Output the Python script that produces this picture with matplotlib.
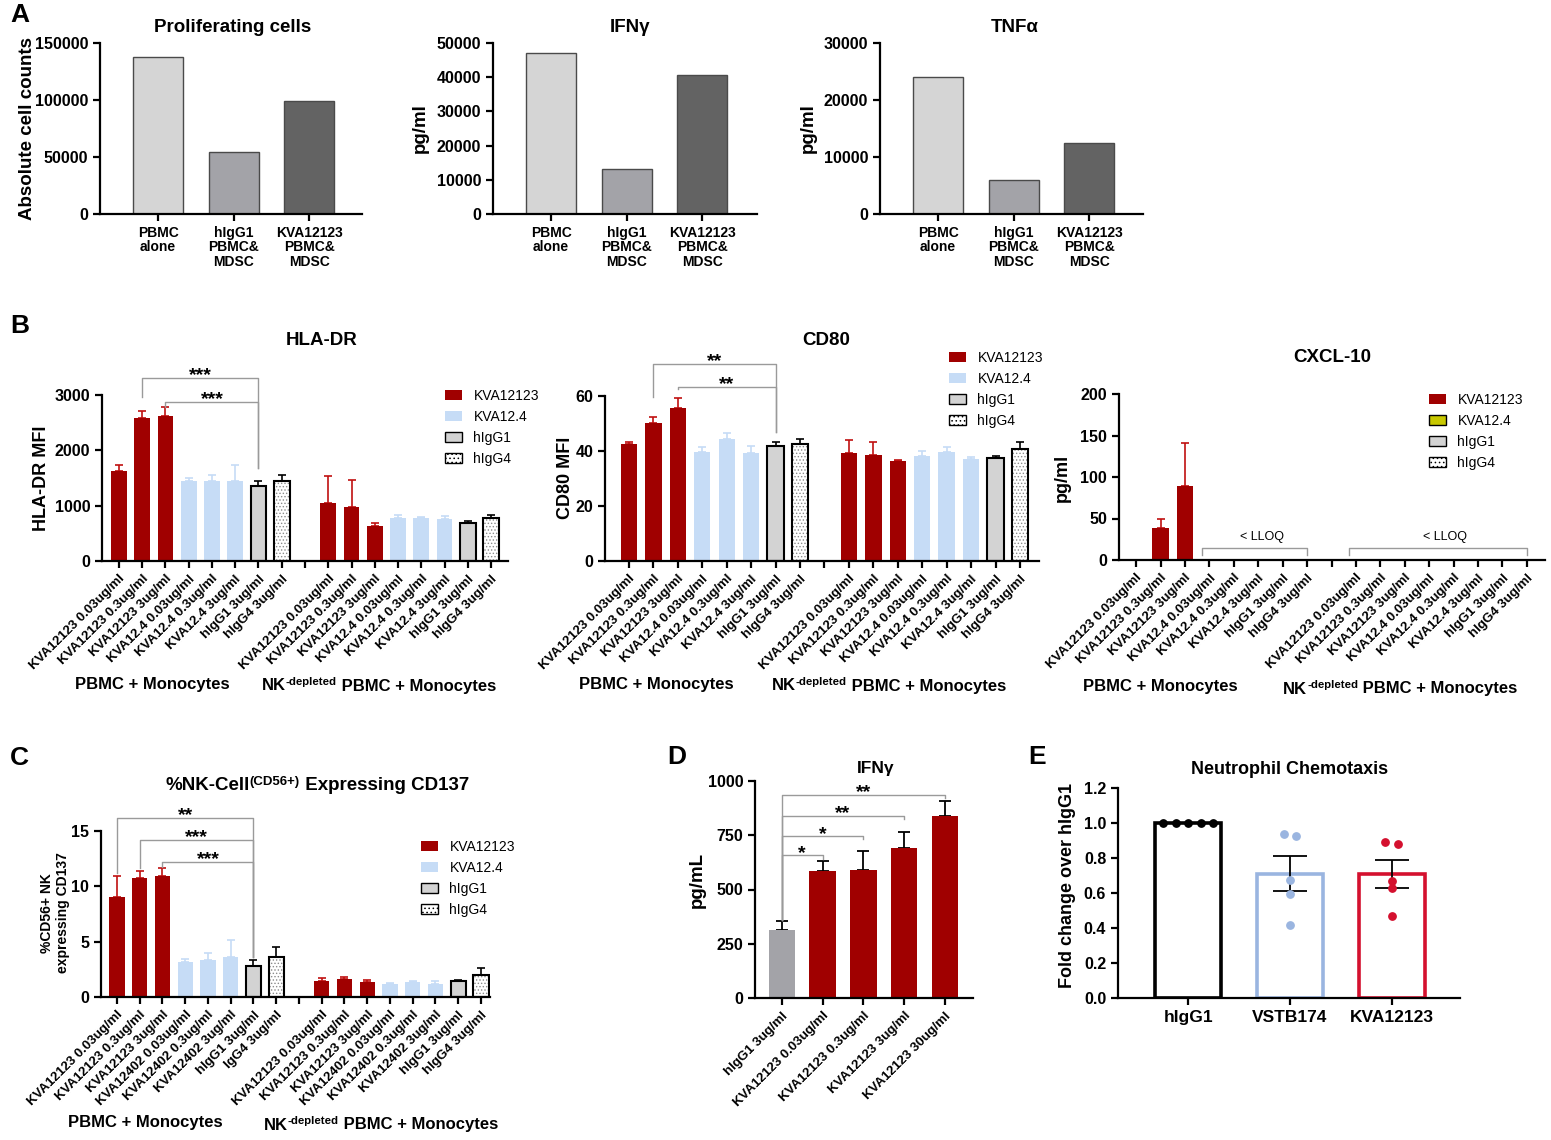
import numpy as np
import matplotlib
matplotlib.use("Agg")
import matplotlib.pyplot as plt
from matplotlib.patches import Patch

plt.rcParams['font.family'] = ['Liberation Sans', 'DejaVu Sans']
plt.rcParams['font.weight'] = 'bold'
plt.rcParams['hatch.linewidth'] = 0.6

# ---------------- data ----------------
a_labels = ["PBMC\nalone", "hIgG1\nPBMC&\nMDSC", "KVA12123\nPBMC&\nMDSC"]
prolif_vals = [138000, 54500, 99500]
ifng_a_vals = [47200, 13200, 40700]
tnfa_vals = [24100, 5900, 12400]

b_labels = ["KVA12123 0.03ug/ml", "KVA12123 0.3ug/ml", "KVA12123 3ug/ml",
            "KVA12.4 0.03ug/ml", "KVA12.4 0.3ug/ml", "KVA12.4 3ug/ml",
            "hIgG1 3ug/ml", "hIgG4 3ug/ml"]
b_kinds = ['KVA12123'] * 3 + ['KVA12.4'] * 3 + ['hIgG1', 'hIgG4']

hladr_mean = [1632, 2590, 2614, 1446, 1452, 1440, 1355, 1446,
              1042, 970, 639, 771, 771, 759, 693, 771]
hladr_err = [103, 115, 163, 48, 108, 301, 97, 108,
             500, 500, 42, 54, 18, 48, 36, 54]

cd80_mean = [42.4, 50.1, 55.7, 39.7, 44.5, 39.1, 42.0, 42.4,
             39.1, 38.6, 36.3, 38.1, 39.5, 37.0, 37.5, 40.6]
cd80_err = [1.0, 2.3, 3.7, 1.8, 2.1, 2.6, 1.4, 2.0,
            5.0, 4.7, 0.6, 2.0, 2.1, 0.8, 0.7, 2.8]

cxcl_mean = [0, 38.2, 89.2, 0, 0, 0, 0, 0,
             0, 0, 0, 0, 0, 0, 0, 0]
cxcl_err = [0, 11.6, 52.2, 0, 0, 0, 0, 0,
            0, 0, 0, 0, 0, 0, 0, 0]

c_labels1 = ["KVA12123 0.03ug/ml", "KVA12123 0.3ug/ml", "KVA12123 3ug/ml",
             "KVA12402 0.03ug/ml", "KVA12402 0.3ug/ml", "KVA12402 3ug/ml",
             "hIgG1 3ug/ml", "IgG4 3ug/ml"]
c_labels2 = c_labels1[:7] + ["hIgG4 3ug/ml"]
cd137_mean = [9.03, 10.71, 10.95, 3.15, 3.30, 3.63, 2.76, 3.63,
              1.41, 1.62, 1.32, 1.20, 1.38, 1.20, 1.41, 1.98]
cd137_err = [1.89, 0.66, 0.75, 0.30, 0.66, 1.50, 0.54, 0.87,
             0.30, 0.15, 0.24, 0.06, 0.09, 0.24, 0.15, 0.63]

d_labels = ["hIgG1 3ug/ml", "KVA12123 0.03ug/ml", "KVA12123 0.3ug/ml",
            "KVA12123 3ug/ml", "KVA12123 30ug/ml"]
d_mean = [315, 584, 591, 693, 839]
d_err = [38, 47, 88, 73, 69]

e_labels = ["hIgG1", "VSTB174", "KVA12123"]
e_higg1 = [1.0, 1.0, 1.0, 1.0, 1.0]
e_vstb = [0.937, 0.925, 0.673, 0.595, 0.419]
e_kva = [0.893, 0.878, 0.669, 0.629, 0.468]

# significance brackets: (left bar, right bar, line y, left drop, right drop, label)
hladr_sig = [(1, 6, 3307, 2964, 1680, '***'), (2, 6, 2873, 2783, 1680, '***')]
cd80_sig = [(1, 6, 71.6, 59.6, 46.9, '**'), (2, 6, 63.3, 62.5, 46.9, '**')]
cd137_sig = [(0, 6, 16.2, 11.2, 3.6, '**'), (1, 6, 14.2, 11.65, 3.6, '***'),
             (2, 6, 12.2, 11.75, 3.6, '***')]
d_sig = [(0, 1, 657, 358, 642, '*'), (0, 2, 745, 358, 733, '*'),
         (0, 3, 840, 358, 825, '**'), (0, 4, 937, 358, 923, '**')]

# ---------------- styles ----------------
RED = '#a00000'
RED_ERR = '#c01010'
BLUE = '#c6dcf6'
GRAY = '#d3d3d3'
OLIVE = '#c8c800'
STYLE = {
    'KVA12123': dict(fc=RED, ec='none', err=RED_ERR, hatch=None),
    'KVA12.4': dict(fc=BLUE, ec='none', err=BLUE, hatch=None),
    'hIgG1': dict(fc=GRAY, ec='black', err='black', hatch=None),
    'hIgG4': dict(fc='white', ec='black', err='black', hatch='.....'),
}

W, H = 1551, 1140
fig = plt.figure(figsize=(W / 100, H / 100), dpi=100)


def fx(x):
    return x / W


def fy(y):
    return 1 - y / H


def add_ax(x0, x1, ytop, ybot):
    return fig.add_axes([fx(x0), fy(ybot), (x1 - x0) / W, (ybot - ytop) / H])


def style(ax, ymax, yticks, xlim):
    ax.spines[['top', 'right']].set_visible(False)
    for s in ['left', 'bottom']:
        ax.spines[s].set_linewidth(1.6)
    ax.tick_params(width=1.6, length=5)
    ax.tick_params(axis='y', labelsize=11.5)
    ax.set_ylim(0, ymax)
    ax.set_yticks(yticks)
    ax.set_xlim(*xlim)


def ftext(x, y, s, **kw):
    return fig.text(fx(x), fy(y), s, **kw)


def ylab(x, y, s, size=13):
    ftext(x, y, s, rotation=90, ha='center', va='center', fontsize=size)


def sup_label(ax, x, y, base, sup, rest, size=12, sup_size=None):
    sup_size = sup_size or size * 0.68
    t1 = ax.text(fx(x), fy(y), base, transform=fig.transFigure,
                 ha='left', va='center', fontsize=size)
    t2 = ax.annotate(sup, xy=(1, 1.07), xycoords=t1, ha='left',
                     va='top', fontsize=sup_size)
    ax.annotate(rest, xy=(1, 0), xycoords=(t2, t1),
                ha='left', va='bottom', fontsize=size)


def sig(ax, x_of, brackets, color='#9a9a9a'):
    for l, r, y, yl, yr, lab in brackets:
        xl, xr = x_of[l], x_of[r]
        ax.plot([xl, xl, xr, xr], [yl, y, y, yr], color=color, lw=1,
                clip_on=False)
        ax.annotate(lab, xy=((xl + xr) / 2, y), xytext=(0, -4.5),
                    textcoords='offset points', ha='center', va='bottom',
                    fontsize=14, annotation_clip=False)


def legend(ax, x, y, olive=False):
    h = [Patch(fc=RED, ec='none'),
         Patch(fc=OLIVE if olive else BLUE, ec='black' if olive else 'none'),
         Patch(fc=GRAY, ec='black'),
         Patch(fc='white', ec='black', hatch='....')]
    labs = ['KVA12123', 'KVA12.4', 'hIgG1', 'hIgG4']
    fig.legend(h, labs, loc='upper left', bbox_to_anchor=(fx(x), fy(y)),
               bbox_transform=fig.transFigure, frameon=False,
               prop={'weight': 'normal', 'size': 10}, borderpad=0,
               borderaxespad=0, handlelength=1.25, handleheight=0.75,
               handletextpad=0.8, labelspacing=0.5)


def group_panel(ax, means, errs, labels1, labels2, skip_zero=False):
    pos = [i if i < 8 else i + 1 for i in range(16)]
    kinds = b_kinds + b_kinds
    for p, m, e, k in zip(pos, means, errs, kinds):
        if skip_zero and m == 0:
            continue
        st = STYLE[k]
        if st['hatch']:
            ax.bar(p, m, 0.67, color='white', hatch=st['hatch'],
                   edgecolor='#8a8a8a', linewidth=0, zorder=2)
            ax.bar(p, m, 0.67, facecolor='none', edgecolor='black',
                   linewidth=1.5, zorder=2)
        else:
            ax.bar(p, m, 0.67, color=st['fc'], edgecolor=st['ec'],
                   linewidth=1.5 if st['ec'] != 'none' else 0, zorder=2)
        ax.errorbar(p, m, yerr=[[0], [e]], fmt='none', ecolor=st['err'],
                    elinewidth=1.2, capsize=3.2, capthick=1.2, zorder=1)
    ax.set_xticks(range(17))
    ax.set_xticklabels(labels1 + [''] + labels2, rotation=45, ha='right',
                       rotation_mode='anchor', fontsize=9.5)
    return pos


# ---------------- panel A ----------------
a_colors = ['#d5d5d5', '#a3a3a8', '#636363']
for (x0, x1, vals, ymax, step, title, tx, yl, ylx) in [
        (100, 362, prolif_vals, 150000, 50000, "Proliferating cells", 233,
         "Absolute cell counts", 28),
        (493, 757, ifng_a_vals, 50000, 10000, "IFNγ", 630, "pg/ml", 420),
        (880, 1143, tnfa_vals, 30000, 10000, "TNFα", 1015, "pg/ml", 808)]:
    ax = add_ax(x0, x1, 43, 214)
    ax.bar(range(3), vals, 0.66, color=a_colors, edgecolor='#4a4a4a',
           linewidth=1)
    width_units = (x1 - x0) / 75.5
    style(ax, ymax, np.arange(0, ymax + 1, step), (-0.77, -0.77 + width_units))
    ax.set_xticks(range(3))
    ax.set_xticklabels(a_labels, fontsize=10, linespacing=1.05)
    ftext(tx, 28, title, ha='center', va='center', fontsize=13.5)
    ylab(ylx, 128, yl, size=13.5)

# ---------------- panel B ----------------
axb1 = add_ax(102, 508, 395, 561)
pos = group_panel(axb1, hladr_mean, hladr_err, b_labels, b_labels)
style(axb1, 3000, [0, 1000, 2000, 3000], (-0.73, 16.73))
sig(axb1, pos, hladr_sig)
ftext(322, 341, "HLA-DR", ha='center', va='center', fontsize=13.5)
ylab(42, 478, "HLA-DR MFI")
legend(axb1, 445, 389)
ftext(152, 684, "PBMC + Monocytes", ha='center', va='center', fontsize=12)
sup_label(axb1, 262, 686, "NK", "-depleted", " PBMC + Monocytes")

axb2 = add_ax(605, 1039, 396, 561)
pos = group_panel(axb2, cd80_mean, cd80_err, b_labels, b_labels)
style(axb2, 60, [0, 20, 40, 60], (-0.98, 16.78))
sig(axb2, pos, cd80_sig)
ftext(826, 341, "CD80", ha='center', va='center', fontsize=13.5)
ylab(565, 478, "CD80 MFI")
legend(axb2, 949, 351)
ftext(656, 684, "PBMC + Monocytes", ha='center', va='center', fontsize=12)
sup_label(axb2, 772, 686, "NK", "-depleted", " PBMC + Monocytes")

axb3 = add_ax(1119, 1545, 394, 560)
pos = group_panel(axb3, cxcl_mean, cxcl_err, b_labels, b_labels,
                  skip_zero=True)
style(axb3, 200, [0, 50, 100, 150, 200], (-0.70, 16.74))
for l, r in [(3, 7), (9, 16)]:
    xl, xr = l - 0.3, r
    axb3.plot([xl, xl, xr, xr], [6, 14.5, 14.5, 6], color='#9a9a9a', lw=1)
    axb3.text((xl + xr) / 2 + 0.3, 20, "< LLOQ", ha='center', va='bottom',
              fontsize=9, fontweight='normal')
ftext(1332, 357, "CXCL-10", ha='center', va='center', fontsize=13.5)
ylab(1062, 478, "pg/ml")
legend(axb3, 1429, 393, olive=True)
ftext(1160, 687, "PBMC + Monocytes", ha='center', va='center', fontsize=12)
sup_label(axb3, 1283, 689, "NK", "-depleted", " PBMC + Monocytes")

# ---------------- panel C ----------------
axc = add_ax(101, 490, 831, 997)
pos = group_panel(axc, cd137_mean, cd137_err, c_labels1, c_labels2)
style(axc, 15, [0, 5, 10, 15], (-0.70, 16.4))
sig(axc, pos, cd137_sig)
ylab(55, 913, "%CD56+ NK\nexpressing CD137", size=10)
legend(axc, 421, 840)
ftext(145, 1122, "PBMC + Monocytes", ha='center', va='center', fontsize=12)
sup_label(axc, 264, 1125, "NK", "-depleted", " PBMC + Monocytes")
sup_label(axc, 165, 786, "%NK-Cell", "(CD56+)", " Expressing CD137",
          size=13.5, sup_size=9.5)

# ---------------- panel D ----------------
axd = add_ax(755, 973, 781, 998)
axd.bar(range(5), d_mean, 0.65, color=['#a3a3a8'] + [RED] * 4, zorder=2)
axd.errorbar(range(5), d_mean, yerr=[[0] * 5, d_err], fmt='none',
             ecolor='black', elinewidth=1.3, capsize=4.5, capthick=1.3,
             zorder=1)
style(axd, 1000, [0, 250, 500, 750, 1000], (-0.66, 4.69))
axd.set_xticks(range(5))
axd.set_xticklabels(d_labels, rotation=45, ha='right', rotation_mode='anchor',
                    fontsize=9.5)
sig(axd, list(range(5)), d_sig)
ftext(876, 768, "IFNγ", ha='center', va='center', fontsize=12.5)
ylab(697, 880, "pg/mL", size=13.5)

# ---------------- panel E ----------------
axe = add_ax(1118, 1460, 788, 998)
e_sets = [e_higg1, e_vstb, e_kva]
e_colors = ['black', '#9ab5e0', '#d4102e']
e_offsets = [[-0.248, -0.124, 0, 0.124, 0.248],
             [-0.062, 0.062, 0, 0, 0],
             [-0.062, 0.062, 0, 0, 0]]
for i, (vals, c, offs) in enumerate(zip(e_sets, e_colors, e_offsets)):
    vals = np.array(vals)
    m = vals.mean()
    sem = vals.std(ddof=1) / np.sqrt(len(vals))
    axe.bar(i, m, 0.65, facecolor='white', edgecolor=c, linewidth=2.6,
            zorder=2)
    axe.scatter(i + np.array(offs), vals, s=28, color=c, zorder=4,
                clip_on=False)
    if sem > 0:
        axe.errorbar(i, m, yerr=sem, fmt='none', ecolor='black',
                     elinewidth=1.3, capsize=12, capthick=1.3, zorder=3)
style(axe, 1.2, np.arange(0, 1.21, 0.2), (-0.69, 2.67))
axe.set_yticklabels([f"{v:.1f}" for v in np.arange(0, 1.21, 0.2)])
axe.set_xticks(range(3))
axe.set_xticklabels(e_labels, fontsize=12.5)
ftext(1290, 769, "Neutrophil Chemotaxis", ha='center', va='center',
      fontsize=13)
ylab(1067, 885, "Fold change over hIgG1", size=13)

# ---------------- panel letters ----------------
for letter, x, y in [("A", 10, 15), ("B", 10, 326), ("C", 10, 758),
                     ("D", 667, 757), ("E", 1028, 757)]:
    ftext(x, y, letter, ha='left', va='center', fontsize=19)

fig.savefig("out.png", dpi=100)
